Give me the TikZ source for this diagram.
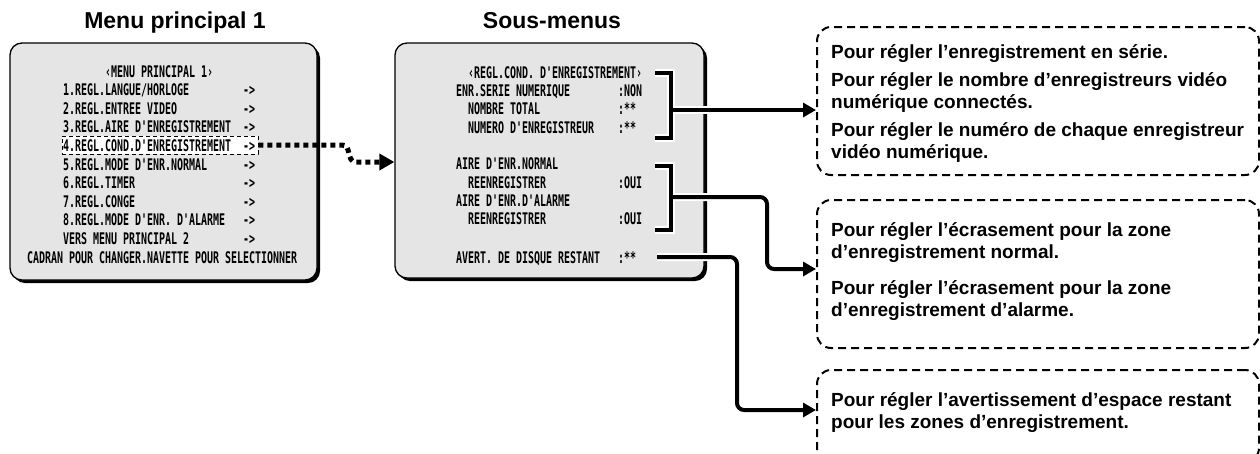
\documentclass[tikz,border=0pt]{standalone}
\usepackage{fontspec}
\setmainfont{Liberation Sans}
\newfontfamily\osd{DejaVu Sans Mono}[FakeStretch=0.623]
\usetikzlibrary{arrows.meta,shadows}
\begin{document}
\begin{tikzpicture}[x=1pt,y=-1pt,
  ttl/.style={font=\fontsize{23}{26}\selectfont\bfseries, anchor=base, inner sep=0pt},
  menubox/.style={draw=black, line width=1.3pt, fill=gray!20, rounded corners=12pt, inner sep=0pt,
    drop shadow={shadow xshift=3pt, shadow yshift=-3pt, fill=black, opacity=1}},
  osdt/.style={font=\osd\bfseries\fontsize{16}{18}\selectfont\frenchspacing, anchor=base west, inner sep=0pt},
  hlbox/.style={draw=black, fill=white, line width=0.8pt, dash pattern=on 4pt off 3pt, inner sep=0pt},
  dbox/.style={draw=black, line width=2pt, dash pattern=on 8pt off 5pt, rounded corners=14pt, inner sep=0pt},
  desc/.style={font=\fontsize{19}{22}\selectfont\bfseries, anchor=base west, inner sep=0pt},
  brk/.style={line width=4pt, preaction={draw=white, line width=8pt}},
  conn/.style={line width=4pt, rounded corners=7pt, preaction={draw=white, line width=8pt},
    -{Triangle[length=13pt,width=14pt]}},
  dotarrow/.style={line width=5pt, dash pattern=on 5pt off 4pt, -{Triangle[length=15pt,width=16pt]}}
]
\useasboundingbox (0,0) rectangle (1260,453);
\clip (0,0) rectangle (1260,453);

% titles
\node[ttl] (t1) at (175,28) {Menu principal 1};
\node[ttl] (t2) at (552,28) {Sous-menus};

% menu boxes
\node[menubox, minimum width=307pt, minimum height=237pt] (menu1) at (163.5,161.5) {};
\node[menubox, minimum width=309pt, minimum height=235pt] (menu2) at (549.5,160.5) {};

% highlight of line 4
\node[hlbox, minimum width=196pt, minimum height=18pt] (hl) at (160,145) {};

% main menu text
\node[osdt] (m0) at (105,77) {‹MENU PRINCIPAL 1›};
\node[osdt] (m1) at (63,95.6) {1.REGL.LANGUE/HORLOGE};
\node[osdt] (m2) at (63,114.2) {2.REGL.ENTREE VIDEO};
\node[osdt] (m3) at (63,132.8) {3.REGL.AIRE D'ENREGISTREMENT};
\node[osdt] (m4) at (63,151.4) {4.REGL.COND.D'ENREGISTREMENT};
\node[osdt] (m5) at (63,170) {5.REGL.MODE D'ENR.NORMAL};
\node[osdt] (m6) at (63,188.6) {6.REGL.TIMER};
\node[osdt] (m7) at (63,207.2) {7.REGL.CONGE};
\node[osdt] (m8) at (63,225.8) {8.REGL.MODE D'ENR. D'ALARME};
\node[osdt] (m9) at (63,244.4) {VERS MENU PRINCIPAL 2};
\node[osdt] (m10) at (27,263) {CADRAN POUR CHANGER.NAVETTE POUR SELECTIONNER};
\foreach \yy [count=\k] in {95.6,114.2,132.8,151.4,170,188.6,207.2,225.8,244.4}
  \node[osdt] (ar\k) at (243,\yy) {->};

% sub menu text
\node[osdt] (s0) at (468,78) {‹REGL.COND. D'ENREGISTREMENT›};
\node[osdt] (s1) at (456,96) {ENR.SERIE NUMERIQUE};
\node[osdt] (s2) at (468,114) {NOMBRE TOTAL};
\node[osdt] (s3) at (468,133) {NUMERO D'ENREGISTREUR};
\node[osdt] (s4) at (456,169) {AIRE D'ENR.NORMAL};
\node[osdt] (s5) at (468,188) {REENREGISTRER};
\node[osdt] (s6) at (456,206) {AIRE D'ENR.D'ALARME};
\node[osdt] (s7) at (468,224) {REENREGISTRER};
\node[osdt] (s8) at (456,263) {AVERT. DE DISQUE RESTANT};
\node[osdt] (v1) at (618,96) {:NON};
\node[osdt] (v2) at (618,114) {:**};
\node[osdt] (v3) at (618,133) {:**};
\node[osdt] (v5) at (618,188) {:OUI};
\node[osdt] (v7) at (618,224) {:OUI};
\node[osdt] (v8) at (618,263) {:**};

% dotted arrow
\coordinate (d1) at (342,145);
\coordinate (d2) at (356,162);
\draw[dotarrow] (hl.east) -- (d1) .. controls (352,145) and (346,162) .. (d2) -- (menu2.west |- d2);

% description boxes
\node[dbox, minimum width=442pt, minimum height=148pt] (boxA) at (1038,101) {};
\node[dbox, minimum width=442pt, minimum height=148pt] (boxB) at (1038,274) {};
\node[dbox, minimum width=442pt, minimum height=92pt] (boxC) at (1038,416) {};

\node[desc] (a1) at (831,58) {Pour régler l’enregistrement en série.};
\node[desc] (a2) at (831,86) {Pour régler le nombre d’enregistreurs vidéo};
\node[desc] (a3) at (831,108) {numérique connectés.};
\node[desc] (a4) at (831,136) {Pour régler le numéro de chaque enregistreur};
\node[desc] (a5) at (831,158) {vidéo numérique.};
\node[desc] (b1t) at (831,236) {Pour régler l’écrasement pour la zone};
\node[desc] (b2t) at (831,258) {d’enregistrement normal.};
\node[desc] (b3t) at (831,294) {Pour régler l’écrasement pour la zone};
\node[desc] (b4t) at (831,316) {d’enregistrement d’alarme.};
\node[desc] (c1t) at (831,406) {Pour régler l’avertissement d’espace restant};
\node[desc] (c2t) at (831,428) {pour les zones d’enregistrement.};

% brackets
\draw[brk] (655,73) -- (671,73) -- (671,138) -- (655,138);
\draw[brk] (655,166) -- (671,166) -- (671,230) -- (655,230);

% connectors
\coordinate (b1) at (673,110);
\coordinate (b2) at (673,197);
\coordinate (b3) at (657,257);
\coordinate (k2) at (767,269);
\coordinate (k3) at (737,410);
\draw[conn] (b1) -- (boxA.west |- b1);
\draw[conn] (b2) -| (k2) -- (boxB.west |- k2);
\draw[conn] (b3) -| (k3) -- (boxC.west |- k3);
\end{tikzpicture}
\end{document}
